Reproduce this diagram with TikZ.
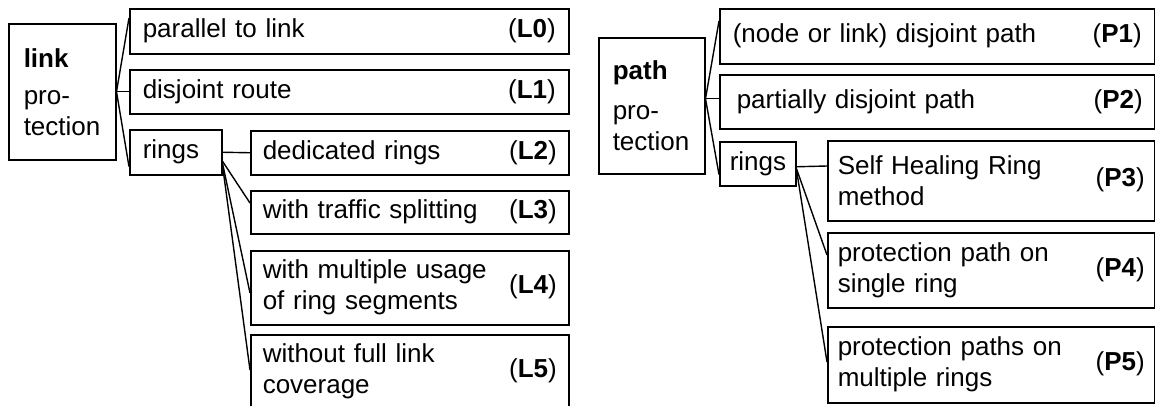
\documentclass[tikz,border=0pt]{standalone}
\usepackage{fontspec}
\setmainfont{Liberation Sans}
\usetikzlibrary{calc}
\newcommand\twoln[3]{\parbox[c]{#1}{\raggedright #2\\#3}}
\begin{document}
\begin{tikzpicture}[x=1pt,y=-1pt,
  box/.style={draw, line width=1.5pt, anchor=north west, inner xsep=12pt, inner ysep=0pt,
    font=\fontsize{26pt}{31pt}\selectfont},
  conn/.style={line width=1.4pt}]
\useasboundingbox (0,0) rectangle (1155,405);
\fill[white] (0,0) rectangle (1155,405);
\clip (0,0) rectangle (1155,405);

% ---------- link protection ----------
\node[box, minimum width=107pt, minimum height=136pt, inner xsep=15pt, text width=77pt, align=left] (link) at (8,23)
  {\textbf{link}\\[6pt]pro-\\tection};
\node[box, minimum width=439pt, minimum height=45pt, inner xsep=13pt, text width=413pt] (L0) at (129,8)
  {parallel to link\hfill(\textbf{L0})};
\node[box, minimum width=439pt, minimum height=44pt, inner xsep=13pt, text width=413pt] (L1) at (129,69)
  {disjoint route\hfill(\textbf{L1})};
\node[box, minimum width=92pt, minimum height=45pt, inner xsep=13pt, text width=66pt, align=left] (ringsL) at (129,129)
  {rings};
\node[box, minimum width=318pt, minimum height=44pt, text width=294pt] (L2) at (250,130)
  {dedicated rings\hfill(\textbf{L2})};
\node[box, minimum width=318pt, minimum height=43pt, text width=294pt] (L3) at (250,190)
  {with traffic splitting\hfill(\textbf{L3})};
\node[box, minimum width=318pt, minimum height=74pt, text width=294pt] (L4) at (250,250)
  {\twoln{232pt}{with multiple usage}{of ring segments}\hfill(\textbf{L4})};
\node[box, minimum width=318pt, minimum height=74pt, text width=294pt] (L5) at (250,334)
  {\twoln{232pt}{without full link}{coverage}\hfill(\textbf{L5})};

\draw[conn] (link.east) -- ([yshift=-10pt]L0.north west);
\draw[conn] (link.east) -- (L1.west);
\draw[conn] (link.east) -- ([yshift=9pt]ringsL.south west);
\draw[conn] (ringsL.east) -- (L2.west);
\draw[conn] ([yshift=-9pt]ringsL.east) -- ([yshift=-13pt]L3.north west);
\draw[conn] ([yshift=-11pt]ringsL.east) -- ([yshift=-43pt]L4.north west);
\draw[conn] ([yshift=-13pt]ringsL.east) -- ([yshift=-36pt]L5.north west);

% ---------- path protection ----------
\node[box, minimum width=106pt, minimum height=136pt, inner xsep=14pt, text width=78pt, align=left] (path) at (598,37)
  {\textbf{path}\\[9pt]pro-\\tection};
\node[box, minimum width=435pt, minimum height=55pt, inner xsep=13pt, text width=409pt] (P1) at (719,8)
  {(node or link) disjoint path\hfill(\textbf{P1})};
\node[box, minimum width=435pt, minimum height=54pt, inner xsep=12pt, text width=411pt] (P2) at (719,74)
  {\hspace*{5pt}partially disjoint path\hfill(\textbf{P2})};
\node[box, minimum width=76pt, minimum height=44pt, inner xsep=10pt, text width=56pt, align=left] (ringsP) at (719,141)
  {rings};
\node[box, minimum width=327pt, minimum height=80pt, inner xsep=10pt, text width=307pt] (P3) at (827,140)
  {\twoln{240pt}{Self Healing Ring}{method}\hfill(\textbf{P3})\hspace*{2pt}};
\node[box, minimum width=327pt, minimum height=75pt, inner xsep=10pt, text width=307pt] (P4) at (827,232)
  {\twoln{240pt}{protection path on}{single ring}\hfill(\textbf{P4})\hspace*{2pt}};
\node[box, minimum width=327pt, minimum height=76pt, inner xsep=10pt, text width=307pt] (P5) at (827,326)
  {\twoln{240pt}{protection paths on}{multiple rings}\hfill(\textbf{P5})\hspace*{2pt}};

\draw[conn] ([yshift=7pt]path.east) -- ([yshift=-13pt]P1.north west);
\draw[conn] ([yshift=7pt]path.east) -- ([yshift=3pt]P2.west);
\draw[conn] ([yshift=7pt]path.east) -- ([yshift=12pt]ringsP.south west);
\draw[conn] ([yshift=-3pt]ringsP.east) -- ([yshift=-26pt]P3.north west);
\draw[conn] ([yshift=-5pt]ringsP.east) -- ([yshift=-23pt]P4.north west);
\draw[conn] ([yshift=-6pt]ringsP.east) -- ([yshift=-36pt]P5.north west);
\end{tikzpicture}
\end{document}
